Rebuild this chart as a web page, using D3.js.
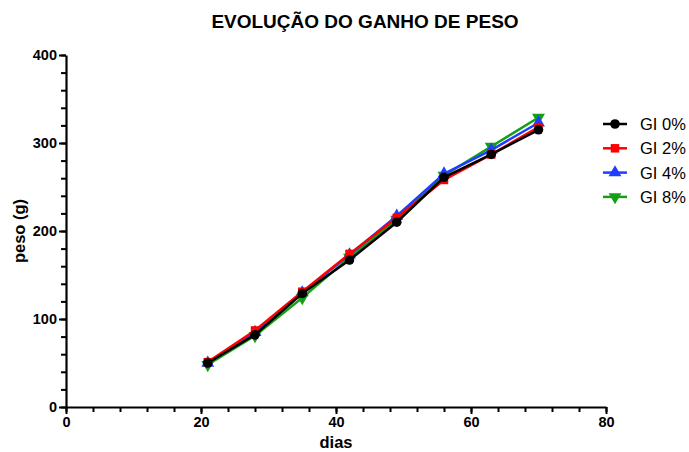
<!DOCTYPE html>
<html>
<head>
<meta charset="utf-8">
<script src="https://cdn.jsdelivr.net/npm/d3@7"></script>
<style>
  body { margin: 0; background: #fff; }
  svg { font-family: "Liberation Sans", Arial, sans-serif; }
</style>
</head>
<body>
<svg id="chart" width="689" height="452"></svg>
<script>
const dias = [21, 28, 35, 42, 49, 56, 63, 70];
const gi0 = [50, 82, 129, 167, 210, 261, 287, 315];
const gi2 = [51, 87, 131, 174, 215, 258, 287, 318];
const gi4 = [50, 85, 130, 173, 217, 265, 292, 323];
const gi8 = [48, 81, 124, 170, 213, 263, 296, 329];
const seriesNames = ["GI 0%", "GI 2%", "GI 4%", "GI 8%"];
const seriesColors = ["#000000", "#ff0000", "#1f3dff", "#14a014"];
const seriesSymbols = [d3.symbolCircle, d3.symbolSquare, d3.symbolTriangle, d3.symbolTriangle];
const xTicks = [0, 20, 40, 60, 80];
const yTicks = [0, 100, 200, 300, 400];

const series = [gi0, gi2, gi4, gi8].map((vals, i) => ({
  name: seriesNames[i],
  color: seriesColors[i],
  symbol: seriesSymbols[i],
  flip: i === 3,
  values: vals.map((v, j) => ({ x: dias[j], y: v }))
}));

const svg = d3.select("#chart");
const margin = { top: 55, right: 83, bottom: 45, left: 66 };
const width = 689 - margin.left - margin.right;
const height = 452 - margin.top - margin.bottom;
const g = svg.append("g").attr("transform", "translate(" + margin.left + "," + margin.top + ")");

const x = d3.scaleLinear().domain([0, 80]).range([0, width]);
const y = d3.scaleLinear().domain([0, 400]).range([height, 0]);

// title
svg.append("text")
  .attr("x", 365).attr("y", 28)
  .attr("text-anchor", "middle")
  .style("font-size", "19px").style("font-weight", "bold")
  .text("EVOLUÇÃO DO GANHO DE PESO");

// minor ticks
g.append("g")
  .attr("transform", "translate(0," + height + ")")
  .call(d3.axisBottom(x).tickValues(d3.range(0, 81, 4)).tickSize(5).tickFormat(""))
  .call(a => a.select(".domain").remove())
  .selectAll("line").attr("stroke-width", 2);
g.append("g")
  .call(d3.axisLeft(y).tickValues(d3.range(0, 401, 20)).tickSize(5).tickFormat(""))
  .call(a => a.select(".domain").remove())
  .selectAll("line").attr("stroke-width", 2);

// main axes
const xAxis = g.append("g")
  .attr("transform", "translate(0," + height + ")")
  .call(d3.axisBottom(x).tickValues(xTicks).tickSize(7).tickSizeOuter(0).tickPadding(3));
const yAxis = g.append("g")
  .call(d3.axisLeft(y).tickValues(yTicks).tickSize(7).tickSizeOuter(0).tickPadding(2));
[xAxis, yAxis].forEach(a => {
  a.select(".domain").attr("stroke-width", 2.2);
  a.selectAll("line").attr("stroke-width", 2);
  a.selectAll("text").style("font-size", "14.5px").style("font-weight", "bold").attr("fill", "#000");
});

// axis titles
svg.append("text")
  .attr("x", margin.left + x(40)).attr("y", 448)
  .attr("text-anchor", "middle")
  .style("font-size", "16.5px").style("font-weight", "bold")
  .text("dias");
svg.append("text")
  .attr("transform", "translate(25," + (margin.top + y(200)) + ") rotate(-90)")
  .attr("text-anchor", "middle")
  .style("font-size", "16.5px").style("font-weight", "bold")
  .text("peso (g)");

const line = d3.line().x(d => x(d.x)).y(d => y(d.y));

// draw back to front so GI 0% sits on top
const drawOrder = series.slice().reverse();
const sg = g.selectAll(".serie").data(drawOrder).enter().append("g").attr("class", "serie");
sg.append("path")
  .attr("fill", "none")
  .attr("stroke", d => d.color)
  .attr("stroke-width", 2.5)
  .attr("d", d => line(d.values));
sg.each(function(s) {
  d3.select(this).selectAll("path.pt").data(s.values).enter().append("path")
    .attr("class", "pt")
    .attr("fill", s.color)
    .attr("d", d3.symbol().type(s.symbol).size(72))
    .attr("transform", d => "translate(" + x(d.x) + "," + y(d.y) + ")" + (s.flip ? " rotate(180)" : ""));
});

// legend
const legend = svg.append("g").attr("transform", "translate(603,124)");
const li = legend.selectAll("g").data(series).enter().append("g")
  .attr("transform", (d, i) => "translate(0," + (i * 24.3) + ")");
li.append("line")
  .attr("x1", 0).attr("x2", 24).attr("y1", 0).attr("y2", 0)
  .attr("stroke", d => d.color).attr("stroke-width", 2.5);
li.append("path")
  .attr("fill", d => d.color)
  .attr("d", d => d3.symbol().type(d.symbol).size(72)())
  .attr("transform", d => "translate(12,0)" + (d.flip ? " rotate(180)" : ""));
li.append("text")
  .attr("x", 37).attr("y", 0).attr("dy", "0.36em")
  .style("font-size", "16.5px")
  .text(d => d.name);
</script>
</body>
</html>
